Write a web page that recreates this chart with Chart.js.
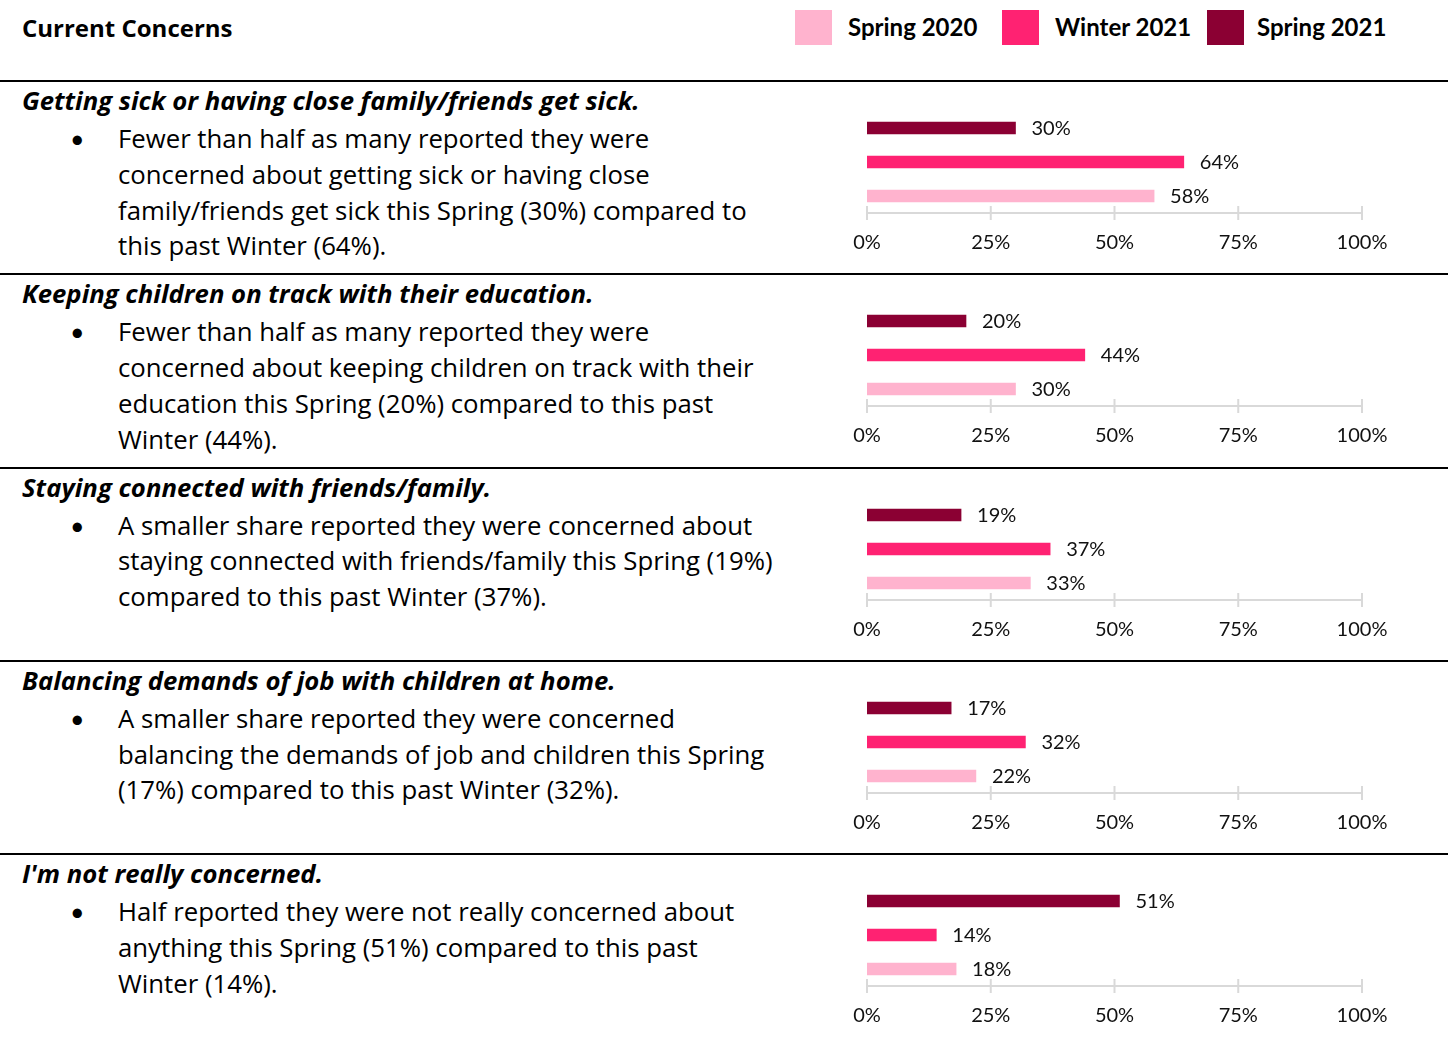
<!DOCTYPE html>
<html><head><meta charset="utf-8">
<script src="https://cdn.jsdelivr.net/npm/chart.js@4"></script>
<style>
html,body{margin:0;padding:0;background:#fff;}
body{width:1448px;height:1063px;position:relative;overflow:hidden;font-family:Lato,"Noto Sans",sans-serif;color:#000;}
.t{position:absolute;white-space:nowrap;transform:translateY(-50%);line-height:1.2;}
.title{font-family:"Open Sans";font-weight:700;font-size:24px;left:22px;top:28px;}
.lg{font-weight:700;font-size:24px;}
.sw{position:absolute;}
.hr{position:absolute;left:0;width:1448px;height:2px;background:#000;}
.head{font-family:"Open Sans";font-weight:700;font-style:italic;font-size:25.7px;left:22px;}
.body{font-family:"Open Sans";font-size:25.75px;left:118px;}
.bul{font-size:25px;left:70px;}
canvas{position:absolute;}
</style>
</head><body>
<div class="t title">Current Concerns</div>
<script>
// ---- data ----
const concerns = [
  "Getting sick or having close family/friends get sick.",
  "Keeping children on track with their education.",
  "Staying connected with friends/family.",
  "Balancing demands of job with children at home.",
  "I'm not really concerned."
];
const bulletLines = [
  ["Fewer than half as many reported they were","concerned about getting sick or having close","family/friends get sick this Spring (30%) compared to","this past Winter (64%)."],
  ["Fewer than half as many reported they were","concerned about keeping children on track with their","education this Spring (20%) compared to this past","Winter (44%)."],
  ["A smaller share reported they were concerned about","staying connected with friends/family this Spring (19%)","compared to this past Winter (37%)."],
  ["A smaller share reported they were concerned","balancing the demands of job and children this Spring","(17%) compared to this past Winter (32%)."],
  ["Half reported they were not really concerned about","anything this Spring (51%) compared to this past","Winter (14%)."]
];
const seriesNames = ["Spring 2020","Winter 2021","Spring 2021"];
const spring2020 = [58,30,33,22,18];
const winter2021 = [64,44,37,32,14];
const spring2021 = [30,20,19,17,51];
const tickValues = [0,25,50,75,100];
const tickLabels = ["0%","25%","50%","75%","100%"];

// ---- styles ----
const colors = {"Spring 2020":"#FFB3CE","Winter 2021":"#FF2272","Spring 2021":"#8B0033"};
const rowTop0 = 81, rowStep = 193.25;

// legend
const legendPos = [[795,848],[1002,1055],[1207,1257]];
seriesNames.forEach((n,i)=>{
  const sw=document.createElement('div');sw.className='sw';
  sw.style.cssText=`left:${legendPos[i][0]}px;top:10px;width:37px;height:35px;background:${colors[n]}`;
  document.body.appendChild(sw);
  const tx=document.createElement('div');tx.className='t lg';tx.textContent=n;
  tx.style.left=legendPos[i][1]+'px';tx.style.top='27px';
  document.body.appendChild(tx);
});

function addText(cls,txt,left,top){
  const d=document.createElement('div');d.className='t '+cls;d.textContent=txt;
  if(left!=null)d.style.left=left+'px';d.style.top=top+'px';document.body.appendChild(d);return d;
}

const valueLabelPlugin={
  id:'vlabels',
  afterDatasetsDraw(chart){
    const ctx=chart.ctx;ctx.save();
    ctx.font='20px Lato';ctx.fillStyle='#111';ctx.textBaseline='middle';ctx.textAlign='left';
    chart.getDatasetMeta(0).data.forEach((bar,j)=>{
      const v=chart.data.datasets[0].data[j];
      ctx.fillText(v+'%',bar.x+16,bar.y+1);
    });
    ctx.restore();
  }
};
const axisPlugin={
  id:'axisTicks',
  beforeDatasetsDraw(chart){
    const xs=chart.scales.x, ctx=chart.ctx, y=chart.chartArea.bottom;
    ctx.save();ctx.strokeStyle='#D9D9D9';ctx.lineWidth=2;
    ctx.beginPath();
    ctx.moveTo(xs.getPixelForValue(tickValues[0]),y);
    ctx.lineTo(xs.getPixelForValue(tickValues[tickValues.length-1]),y);
    tickValues.forEach(v=>{const px=xs.getPixelForValue(v);ctx.moveTo(px,y-7);ctx.lineTo(px,y+7);});
    ctx.stroke();ctx.restore();
  }
};

concerns.forEach((c,i)=>{
  const top=rowTop0+i*rowStep;
  const hr=document.createElement('div');hr.className='hr';hr.style.top=(top-1)+'px';document.body.appendChild(hr);
  addText('head',c,null,top+20);
  addText('bul','\u2022',null,top+57);
  bulletLines[i].forEach((l,k)=>addText('body',l,null,top+57+k*35.8));

  const cv=document.createElement('canvas');
  cv.style.left='830px';cv.style.top=(top+2)+'px';
  cv.width=580;cv.height=175;cv.style.width='580px';cv.style.height='175px';
  document.body.appendChild(cv);
  const order=["Spring 2021","Winter 2021","Spring 2020"];
  const vals={"Spring 2020":spring2020[i],"Winter 2021":winter2021[i],"Spring 2021":spring2021[i]};
  new Chart(cv,{
    type:'bar',
    data:{labels:order,datasets:[{data:order.map(n=>vals[n]),backgroundColor:order.map(n=>colors[n]),barThickness:12,borderWidth:0}]},
    options:{
      indexAxis:'y',responsive:false,animation:false,
      layout:{padding:{left:37,right:48,top:28,bottom:0}},
      plugins:{legend:{display:false},tooltip:{enabled:false}},
      scales:{
        y:{display:false},
        x:{min:0,max:100,
           afterBuildTicks(s){s.ticks=tickValues.map(v=>({value:v}));},
           afterFit(s){s.height=45;},
           grid:{display:false,drawTicks:false},border:{display:false},
           ticks:{padding:18,color:'#111',font:{family:'Lato',size:20},callback:(v)=>tickLabels[tickValues.indexOf(v)]}}
      }
    },
    plugins:[axisPlugin,valueLabelPlugin]
  });
});
</script>
</body></html>
